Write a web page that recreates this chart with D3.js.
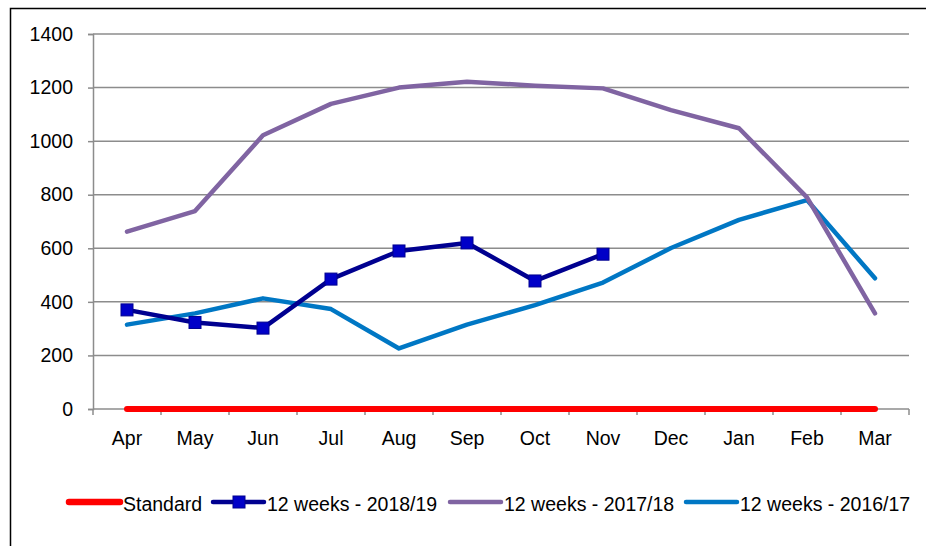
<!DOCTYPE html>
<html><head><meta charset="utf-8">
<script src="https://cdn.jsdelivr.net/npm/d3@7/dist/d3.min.js"></script>
<style>body{margin:0;background:#fff}svg{display:block;font-family:"Liberation Sans",Arial,sans-serif}</style>
</head><body><svg id="c" width="926" height="546"></svg>
<script>
const months = ["Apr","May","Jun","Jul","Aug","Sep","Oct","Nov","Dec","Jan","Feb","Mar"];
const standard = [0,0,0,0,0,0,0,0,0,0,0,0];
const w2018 = [370,323,302,485,590,620,478,578];
const w2017 = [662,739,1022,1139,1200,1222,1207,1197,1116,1048,790,357];
const w2016 = [315,357,413,373,226,315,388,472,601,706,780,488];
const yTicks = [0,200,400,600,800,1000,1200,1400];

const FS = 19.5;
const svg = d3.select("#c");
const L=93, R=909, T=34, B=409;
svg.append("path").attr("d","M10.5,546 V8.5 H926").attr("fill","none").attr("stroke","#000").attr("stroke-width",1.5);
const x = d3.scaleBand().domain(months).range([L,R]);
const y = d3.scaleLinear().domain([0,1400]).range([B,T]);

// gridlines
svg.append("g").selectAll("line").data(yTicks).join("line")
  .attr("x1",L).attr("x2",R).attr("y1",d=>y(d)).attr("y2",d=>y(d))
  .attr("stroke","#8c8c8c").attr("stroke-width",1.5);

const ya = svg.append("g").attr("transform",`translate(${L},0)`)
  .call(d3.axisLeft(y).tickValues(yTicks).tickFormat(d3.format("d")).tickSize(5).tickPadding(15));
const xa = svg.append("g").attr("transform",`translate(0,${B})`)
  .call(d3.axisBottom(x).tickSize(0).tickPadding(22));
[ya,xa].forEach(a=>{a.select(".domain").attr("stroke","#8c8c8c").attr("stroke-width",1.5);
  a.selectAll(".tick line").attr("stroke","#8c8c8c").attr("stroke-width",1.5);
  a.selectAll("text").attr("font-size",FS).attr("fill","#000").attr("font-family","Liberation Sans, Arial, sans-serif");});
xa.select(".domain").remove();
// x ticks at band boundaries
svg.append("g").selectAll("line").data(d3.range(months.length+1)).join("line")
  .attr("x1",i=>L+i*x.step()).attr("x2",i=>L+i*x.step()).attr("y1",B).attr("y2",B+6)
  .attr("stroke","#8c8c8c").attr("stroke-width",1.5);

const cx = (d,i)=>x(months[i])+x.bandwidth()/2;
const line = d3.line().x(cx).y(d=>y(d));
function drawLine(data,color,w){
  svg.append("path").datum(data).attr("d",line).attr("fill","none").attr("stroke",color)
    .attr("stroke-width",w).attr("stroke-linejoin","round").attr("stroke-linecap","round");
}
drawLine(standard,"#ff0000",6);
drawLine(w2016,"#0077c4",4.5);
drawLine(w2017,"#8064a2",4.5);
drawLine(w2018,"#000090",4.5);
svg.append("g").selectAll("rect").data(w2018).join("rect")
  .attr("x",(d,i)=>cx(d,i)-6).attr("y",d=>y(d)-6).attr("width",12).attr("height",12)
  .attr("fill","#0000c8").attr("stroke","#000090").attr("stroke-width",1);

// legend
const leg = [
  {name:"Standard",color:"#ff0000",x:66,w:6.5,marker:false},
  {name:"12 weeks - 2018/19",color:"#000090",x:210,w:4.5,marker:true},
  {name:"12 weeks - 2017/18",color:"#8064a2",x:447,w:4.5,marker:false},
  {name:"12 weeks - 2016/17",color:"#0077c4",x:683,w:4.5,marker:false}
];
const ly=502;
leg.forEach(d=>{
  svg.append("line").attr("x1",d.x+3).attr("x2",d.x+54).attr("y1",ly).attr("y2",ly)
    .attr("stroke",d.color).attr("stroke-width",d.w).attr("stroke-linecap","round");
  if(d.marker) svg.append("rect").attr("x",d.x+23).attr("y",ly-6).attr("width",12).attr("height",12)
    .attr("fill","#0000c8").attr("stroke","#000090");
  svg.append("text").attr("x",d.x+57).attr("y",ly+9).attr("font-size",FS).text(d.name);
});
</script></body></html>
